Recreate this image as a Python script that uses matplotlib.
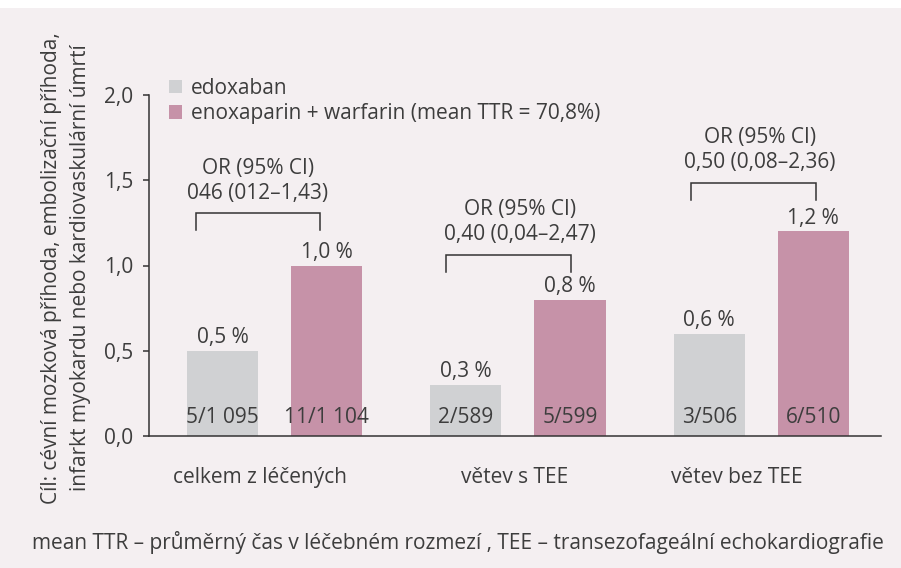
import numpy as np
import matplotlib
matplotlib.use("Agg")
import matplotlib.pyplot as plt
from matplotlib.patches import Rectangle

# data
groups = ["celkem z léčených", "větev s TEE", "větev bez TEE"]
edoxaban = [0.5, 0.3, 0.6]
enoxaparin = [1.0, 0.8, 1.2]
edox_counts = ["5/1 095", "2/589", "3/506"]
enox_counts = ["11/1 104", "5/599", "6/510"]
or_text = ["046 (012\u20131,43)", "0,40 (0,04\u20132,47)", "0,50 (0,08\u20132,36)"]
# bracket ends relative to group centre, bracket height, text shift
bracket_x = [(-0.323, 0.187), (-0.294, 0.220), (-0.290, 0.224)]
bracket_y = [1.306, 1.062, 1.484]
or_shift = [-0.068, 0.010, -0.006]
label_shift = [-0.06, -0.015, -0.10]

series_names = ["edoxaban", "enoxaparin + warfarin (mean TTR = 70,8%)"]
footnote = ("mean TTR \u2013 průměrný čas v léčebném rozmezí , "
            "TEE \u2013 transezofageální echokardiografie")

bg = "#f4eff1"
c_gray = "#d0d1d3"
c_pink = "#c692a8"
txt = "#3d3d3d"
plt.rcParams["font.family"] = ["Open Sans", "DejaVu Sans"]
plt.rcParams["text.color"] = txt

fig = plt.figure(figsize=(9.01, 5.68), dpi=100, facecolor="white")
fig.patches.append(Rectangle((0, 0), 1, 1 - 8 / 568, transform=fig.transFigure,
                             facecolor=bg, edgecolor="none", zorder=-10))
ax = fig.add_axes([149 / 901, 1 - 436 / 568, (881 - 149) / 901, (436 - 95) / 568])
ax.set_facecolor("none")

x = np.arange(len(groups))
w = 0.292
off = 0.214
ax.bar(x - off, edoxaban, w, color=c_gray, label=series_names[0])
ax.bar(x + off, enoxaparin, w, color=c_pink, label=series_names[1])

fs = 15
for i in range(len(groups)):
    ax.text(x[i] - off, edoxaban[i] + 0.078, "%s %%" % str(edoxaban[i]).replace(".", ","),
            ha="center", va="center", fontsize=fs)
    ax.text(x[i] + off, enoxaparin[i] + 0.078, "%s %%" % str(enoxaparin[i]).replace(".", ","),
            ha="center", va="center", fontsize=fs)
    ax.text(x[i] - off, 0.11, edox_counts[i], ha="center", va="center", fontsize=fs)
    ax.text(x[i] + off, 0.11, enox_counts[i], ha="center", va="center", fontsize=fs)
    # bracket with OR text
    xl, xr = x[i] + bracket_x[i][0], x[i] + bracket_x[i][1]
    yb = bracket_y[i]
    ax.plot([xl, xl, xr, xr], [yb - 0.1, yb, yb, yb - 0.1], color="#333333",
            lw=1.1, clip_on=False, solid_joinstyle="miter")
    xc = x[i] + or_shift[i]
    ax.text(xc, yb + 0.265, "OR (95% CI)", ha="center", va="center", fontsize=fs)
    ax.text(xc, yb + 0.118, or_text[i], ha="center", va="center", fontsize=fs)

ax.set_xlim(-0.516, 2.492)
ax.set_ylim(0, 2.0)
ax.set_yticks([0, 0.5, 1.0, 1.5, 2.0])
ax.set_yticklabels(["0,0", "0,5", "1,0", "1,5", "2,0"])
ax.set_xticks(x + np.array(label_shift))
ax.set_xticklabels(groups)
ax.tick_params(axis="y", length=4.5, width=1.1, color="#333333", pad=7, labelsize=fs, labelcolor=txt)
ax.tick_params(axis="x", length=0, pad=22, labelsize=fs, labelcolor=txt)
for s in ["top", "right"]:
    ax.spines[s].set_visible(False)
for s in ["left", "bottom"]:
    ax.spines[s].set_color("#333333")
    ax.spines[s].set_linewidth(1.1)

ax.legend(loc="upper left", bbox_to_anchor=(10 / 732, 1.08), frameon=False,
          fontsize=fs, handlelength=0.6, handleheight=0.6, handletextpad=0.45,
          labelspacing=0.2, borderpad=0)

fig.text(66 / 901, 1 - 268 / 568,
         "Cíl: cévní mozková příhoda, embolizační příhoda,\n"
         "infarkt myokardu nebo kardiovaskulární úmrtí",
         rotation=90, ha="center", va="center", multialignment="center",
         fontsize=fs, linespacing=1.45)
fig.text(458 / 901, 1 - 542 / 568, footnote, ha="center", va="center", fontsize=fs)

fig.savefig("out.png", dpi=100, facecolor=fig.get_facecolor())
